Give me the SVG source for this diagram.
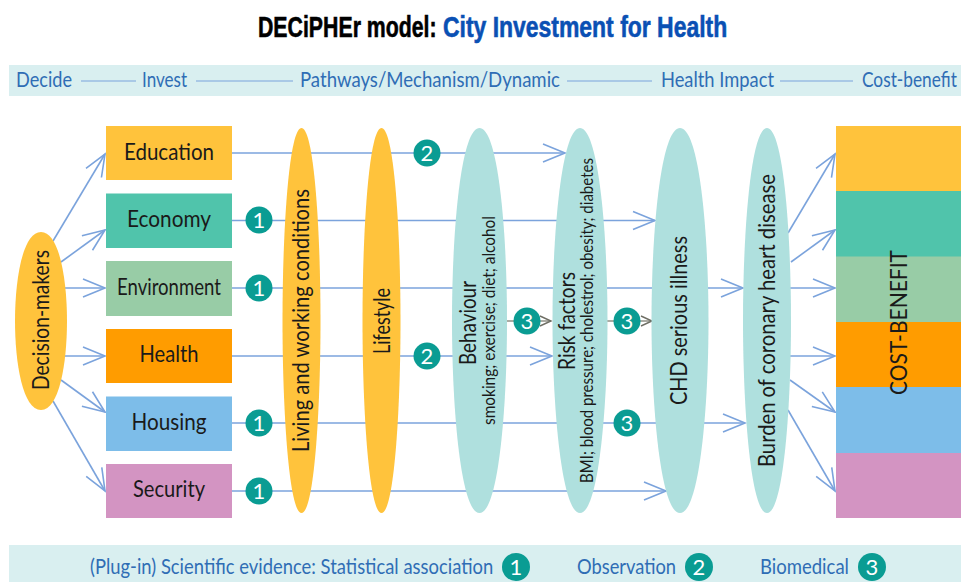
<svg xmlns="http://www.w3.org/2000/svg" width="961" height="582" viewBox="0 0 961 582">
<style>
text{font-family:"Lato","Liberation Sans",sans-serif;fill:#1a1a1a}
.t{font-family:"Liberation Sans",Arial,sans-serif;font-weight:700;font-size:30px;fill:#000;stroke:#000;stroke-width:.6}
.tb{fill:#0a50b4;stroke:#0a50b4}
.b{fill:#2f6db5;font-size:21px}
.l{font-size:24px;text-anchor:middle}
.v{font-size:24px}
.s{font-size:18px}
.n{fill:#fff;font-size:22px;text-anchor:middle}
.y{fill:#ffc33c}.c{fill:#afe0de}
.k{fill:#0a9c93}
.w{fill:none;stroke:#7ba3dc;stroke-width:1.6}
.g{fill:none;stroke:#8f8f84;stroke-width:1.4}
</style>
<defs>
<marker id="a" markerUnits="userSpaceOnUse" markerWidth="26" markerHeight="24" refX="23" refY="12" orient="auto"><path d="M1,3L23,12L1,21" fill="none" stroke="#7ba3dc" stroke-width="1.6"/></marker>
<marker id="d" markerUnits="userSpaceOnUse" markerWidth="14" markerHeight="12" refX="12" refY="6" orient="auto"><path d="M1,1L12,6L1,11" fill="none" stroke="#6e6e64" stroke-width="1.4"/></marker>
</defs>
<rect width="961" height="582" fill="#fff"/>
<g id="title">
<text class="t" transform="translate(258,37) scale(.71,1)">DECiPHEr model:</text>
<text class="t tb" transform="translate(443,37) scale(.765,1)">City Investment for Health</text>
</g>
<g id="band-top">
<rect x="9" y="65" width="952" height="31" fill="#d9eff0"/>
<path class="w" style="stroke-width:1.2" d="M81,81H136M196,81H293M567,81H652M780,81H853"/>
<text class="b" x="16" y="87" textLength="56" lengthAdjust="spacingAndGlyphs">Decide</text>
<text class="b" x="142" y="87" textLength="45" lengthAdjust="spacingAndGlyphs">Invest</text>
<text class="b" x="300" y="87" textLength="260" lengthAdjust="spacingAndGlyphs">Pathways/Mechanism/Dynamic</text>
<text class="b" x="661" y="87" textLength="113" lengthAdjust="spacingAndGlyphs">Health Impact</text>
<text class="b" transform="translate(862,87) scale(.87,1)" textLength="109" lengthAdjust="spacingAndGlyphs">Cost-benefit</text>
</g>
<g id="connectors">
<path class="w" marker-end="url(#a)" d="M53,241L105,154"/>
<path class="w" marker-end="url(#a)" d="M61,262L105,230"/>
<path class="w" marker-end="url(#a)" d="M60,288H105"/>
<path class="w" marker-end="url(#a)" d="M60,356H105"/>
<path class="w" marker-end="url(#a)" d="M61,380L105,412"/>
<path class="w" marker-end="url(#a)" d="M53,401L105,491"/>
<path class="w" marker-end="url(#a)" d="M232,153H565"/>
<path class="w" marker-end="url(#a)" d="M232,220.500H655"/>
<path class="w" marker-end="url(#a)" d="M232,288H743"/>
<path class="w" marker-end="url(#a)" d="M232,356H552"/>
<path class="w" marker-end="url(#a)" d="M232,423H745"/>
<path class="w" marker-end="url(#a)" d="M232,491H666"/>
<path class="g" marker-end="url(#d)" d="M507,321H551"/>
<path class="g" marker-end="url(#d)" d="M607,321H652"/>
<path class="w" marker-end="url(#a)" d="M788,233L835,154"/>
<path class="w" marker-end="url(#a)" d="M791,262L835,230"/>
<path class="w" marker-end="url(#a)" d="M790,288H835"/>
<path class="w" marker-end="url(#a)" d="M790,356H835"/>
<path class="w" marker-end="url(#a)" d="M790,380L835,412"/>
<path class="w" marker-end="url(#a)" d="M788,410L835,491"/>
</g>
<g id="node-decision-makers">
<path class="y" d="M41,232C59,232 67,278 67,321C67,364 59,410 41,410C23,410 15,364 15,321C15,278 23,232 41,232Z"/>
<text class="v" transform="translate(49,390) rotate(-90)" textLength="140" lengthAdjust="spacingAndGlyphs">Decision-makers</text>
</g>
<g id="node-education"><rect x="106" y="126" width="126" height="54" fill="#ffc33c"/><text class="l" x="169" y="160" textLength="90" lengthAdjust="spacingAndGlyphs">Education</text></g>
<g id="node-economy"><rect x="106" y="193.500" width="126" height="54.500" fill="#50c4ab"/><text class="l" x="169" y="227" textLength="84" lengthAdjust="spacingAndGlyphs">Economy</text></g>
<g id="node-environment"><rect x="106" y="261" width="126" height="55" fill="#98cca6"/><text class="l" x="169" y="295" textLength="104" lengthAdjust="spacingAndGlyphs">Environment</text></g>
<g id="node-health"><rect x="106" y="329" width="126" height="54" fill="#ff9c00"/><text class="l" x="169" y="362" textLength="59" lengthAdjust="spacingAndGlyphs">Health</text></g>
<g id="node-housing"><rect x="106" y="396.500" width="126" height="54.500" fill="#7dbde9"/><text class="l" x="169" y="430" textLength="75" lengthAdjust="spacingAndGlyphs">Housing</text></g>
<g id="node-security"><rect x="106" y="464" width="126" height="54" fill="#d394c2"/><text class="l" x="169" y="497" textLength="72" lengthAdjust="spacingAndGlyphs">Security</text></g>
<g id="node-living">
<path class="y" d="M301.500,128C314,128 320.500,230 320.500,320.500C320.500,411 314,513 301.500,513C289,513 282.500,411 282.500,320.500C282.500,230 289,128 301.500,128Z"/>
<text class="v" transform="translate(309,452) rotate(-90)" textLength="263" lengthAdjust="spacingAndGlyphs">Living and working conditions</text>
</g>
<g id="node-lifestyle">
<path class="y" d="M381.500,128C394,128 400.500,230 400.500,320.500C400.500,411 394,513 381.500,513C369,513 362.500,411 362.500,320.500C362.500,230 369,128 381.500,128Z"/>
<text class="v" transform="translate(390,354) rotate(-90)" textLength="66" lengthAdjust="spacingAndGlyphs">Lifestyle</text>
</g>
<g id="node-behaviour">
<path class="c" d="M479.500,128C498,128 507,230 507,320.500C507,411 498,513 479.500,513C461,513 452,411 452,320.500C452,230 461,128 479.500,128Z"/>
<text class="v" transform="translate(476,365) rotate(-90)" textLength="84" lengthAdjust="spacingAndGlyphs">Behaviour</text>
<text class="s" transform="translate(495,425) rotate(-90)" textLength="209" lengthAdjust="spacingAndGlyphs">smoking; exercise; diet; alcohol</text>
</g>
<g id="node-risk-factors">
<path class="c" d="M580,128C598,128 607.500,230 607.500,320.500C607.500,411 598,513 580,513C562,513 552.500,411 552.500,320.500C552.500,230 562,128 580,128Z"/>
<text class="v" transform="translate(575,370) rotate(-90)" textLength="98" lengthAdjust="spacingAndGlyphs">Risk factors</text>
<text class="s" transform="translate(593,483) rotate(-90)" textLength="325" lengthAdjust="spacingAndGlyphs">BMI; blood pressure; cholestrol; obesity; diabetes</text>
</g>
<g id="node-chd">
<path class="c" d="M680,128C699,128 708.500,230 708.500,320.500C708.500,411 699,513 680,513C661,513 651.500,411 651.500,320.500C651.500,230 661,128 680,128Z"/>
<text class="v" transform="translate(687,405) rotate(-90)" textLength="169" lengthAdjust="spacingAndGlyphs">CHD serious illness</text>
</g>
<g id="node-burden">
<path class="c" d="M767,128C783,128 791,230 791,320.500C791,411 783,513 767,513C751,513 743,411 743,320.500C743,230 751,128 767,128Z"/>
<text class="v" transform="translate(775,467) rotate(-90)" textLength="293" lengthAdjust="spacingAndGlyphs">Burden of coronary heart disease</text>
</g>
<g id="node-cost-benefit">
<rect x="836" y="126" width="125" height="65.500" fill="#ffc33c"/>
<rect x="836" y="191" width="125" height="66" fill="#50c4ab"/>
<rect x="836" y="256.500" width="125" height="66" fill="#98cca6"/>
<rect x="836" y="322" width="125" height="65.500" fill="#ff9c00"/>
<rect x="836" y="387" width="125" height="66" fill="#7dbde9"/>
<rect x="836" y="453" width="125" height="65" fill="#d394c2"/>
<text class="v" transform="translate(907,395) rotate(-90)" textLength="145" lengthAdjust="spacingAndGlyphs">COST-BENEFIT</text>
</g>
<g id="badges">
<circle class="k" cx="259" cy="220" r="13.500"/><text class="n" x="259" y="228">1</text>
<circle class="k" cx="259" cy="288" r="13.500"/><text class="n" x="259" y="296">1</text>
<circle class="k" cx="259" cy="423" r="13.500"/><text class="n" x="259" y="431">1</text>
<circle class="k" cx="259" cy="491" r="13.500"/><text class="n" x="259" y="499">1</text>
<circle class="k" cx="427" cy="153" r="13.500"/><text class="n" x="427" y="161">2</text>
<circle class="k" cx="427" cy="356" r="13.500"/><text class="n" x="427" y="364">2</text>
<circle class="k" cx="527" cy="321" r="13.500"/><text class="n" x="527" y="329">3</text>
<circle class="k" cx="627" cy="321" r="13.500"/><text class="n" x="627" y="329">3</text>
<circle class="k" cx="627" cy="423" r="13.500"/><text class="n" x="627" y="431">3</text>
</g>
<g id="band-bottom">
<rect x="9" y="545" width="952" height="37" fill="#d9eff0"/>
<text class="b" transform="translate(90,574) scale(.9,1)" textLength="448" lengthAdjust="spacingAndGlyphs">(Plug-in) Scientific evidence: Statistical association</text>
<text class="b" x="577" y="574" textLength="99" lengthAdjust="spacingAndGlyphs">Observation</text>
<text class="b" x="760" y="574" textLength="89" lengthAdjust="spacingAndGlyphs">Biomedical</text>
<circle class="k" cx="516" cy="567" r="14"/><text class="n" x="516" y="575">1</text>
<circle class="k" cx="699" cy="567" r="14"/><text class="n" x="699" y="575">2</text>
<circle class="k" cx="872" cy="567" r="14"/><text class="n" x="872" y="575">3</text>
</g>
</svg>
